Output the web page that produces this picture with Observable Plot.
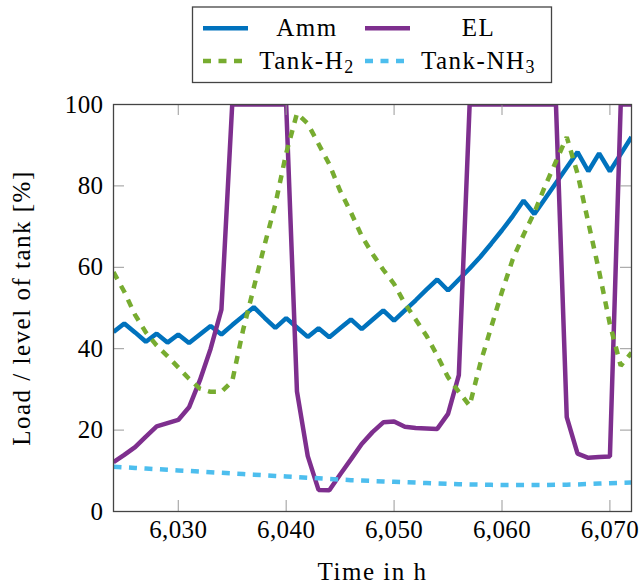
<!DOCTYPE html>
<html><head><meta charset="utf-8">
<script src="https://cdn.jsdelivr.net/npm/d3@7"></script>
<script src="https://cdn.jsdelivr.net/npm/@observablehq/plot@0.6"></script>
<style>
body{margin:0;background:#fff}
#wrap{position:relative;width:641px;height:585px}
#wrap > svg{position:absolute;left:0;top:0}
#wrap text{font-family:"Liberation Serif","DejaVu Serif",serif !important}
#wrap g[aria-label="text"] text{letter-spacing:1.5px}
#wrap g[aria-label$="tick label"] text{letter-spacing:0.4px}
</style>
</head><body><div id="wrap"></div>
<script>
const hours = [6024,6025,6026,6027,6028,6029,6030,6031,6032,6033,6034,6035,6036,6037,6038,6039,6040,6041,6042,6043,6044,6045,6046,6047,6048,6049,6050,6051,6052,6053,6054,6055,6056,6057,6058,6059,6060,6061,6062,6063,6064,6065,6066,6067,6068,6069,6070,6071,6072];
const amm = [44.1,46.2,44.0,41.7,43.7,41.5,43.5,41.4,43.5,45.6,43.5,45.8,48.0,50.2,47.6,45.1,47.5,45.2,42.9,45.0,42.8,45.0,47.2,44.8,47.1,49.4,46.9,49.4,51.9,54.5,57.0,54.3,57.0,59.7,62.6,65.8,69.1,72.6,76.4,73.1,76.9,80.7,84.5,88.3,83.6,88.0,83.6,87.8,92.0];
const el = [12.1,13.9,15.8,18.4,20.9,21.7,22.5,25.6,32.2,40.0,49.6,100,100,100,100,100,100,29.5,13.6,5.3,5.2,9.1,12.8,16.6,19.5,21.9,22.1,20.8,20.5,20.4,20.3,24.0,33.5,100,100,100,100,100,100,100,100,100,23.2,14.2,13.2,13.4,13.5,100,100];
const tankH2 = [58.8,54.0,48.3,44.0,40.8,38.2,35.4,32.6,30.2,29.4,29.4,32.0,44.5,55.0,65.5,75.5,88.0,97.8,95.3,90.3,85.3,78.8,73.5,67.7,63.3,59.4,55.9,51.1,47.2,43.2,38.3,33.0,29.4,26.0,36.5,45.3,54.0,62.0,68.0,73.5,80.0,86.0,92.0,83.0,71.0,59.0,46.0,35.8,39.0];
const tankNH3 = [11.0,10.85,10.7,10.55,10.4,10.25,10.1,9.95,9.8,9.65,9.5,9.35,9.2,9.05,8.9,8.75,8.6,8.45,8.3,8.15,8.0,7.85,7.7,7.6,7.5,7.4,7.3,7.2,7.1,7.0,6.9,6.8,6.7,6.65,6.6,6.55,6.5,6.5,6.5,6.5,6.5,6.55,6.6,6.65,6.75,6.85,6.95,7.05,7.1];
const seriesNames = ["Amm","EL","Tank-H","Tank-NH"];
const seriesSubs = ["","","2","3"];
const seriesColors = ["#0072BD","#7E2F8E","#77AC30","#4DBEEE"];
const seriesDashed = [false,false,true,true];
const seriesValues = [amm, el, tankH2, tankNH3];
const xTicks = [6030,6040,6050,6060,6070];
const yTicks = [0,20,40,60,80,100];
const xLabel = "Time in h";
const yLabel = "Load / level of tank [%]";

const FONT = '"Liberation Serif", "DejaVu Serif", serif';
const DASH = "8,7.5";

const lineMarks = seriesValues.map((vals, k) =>
  Plot.line(hours.map((h, i) => ({t: h, v: vals[i]})), {
    x: "t", y: "v",
    stroke: seriesColors[k],
    strokeWidth: 4.5,
    strokeDasharray: seriesDashed[k] ? DASH : null,
    strokeLinejoin: "miter",
    strokeLinecap: "butt",
    clip: true
  })
);

const chart = Plot.plot({
  width: 641, height: 585,
  marginLeft: 113, marginRight: 10, marginTop: 104, marginBottom: 74,
  x: {domain: [6024, 6072]},
  y: {domain: [0, 100]},
  style: {fontFamily: FONT, fontSize: "25px", color: "#000", background: "white"},
  marks: [
    ...lineMarks,
    Plot.tickX(xTicks, {x: d => d, stroke: "#999", strokeWidth: 1, insetTop: 396}),
    Plot.tickX(xTicks, {x: d => d, stroke: "#999", strokeWidth: 1, insetBottom: 396}),
    Plot.tickY(yTicks, {y: d => d, stroke: "#999", strokeWidth: 1, insetRight: 507}),
    Plot.tickY(yTicks, {y: d => d, stroke: "#999", strokeWidth: 1, insetLeft: 507}),
    Plot.frame({stroke: "#444", strokeWidth: 1.3}),
    Plot.axisX({ticks: xTicks, tickFormat: d3.format(","), tickSize: 0, tickPadding: 9, label: null, fontSize: 25, fill: "#000"}),
    Plot.axisY({ticks: yTicks, tickSize: 0, tickPadding: 10, label: null, fontSize: 25, fill: "#000"}),
    Plot.text([xLabel], {text: d => d, frameAnchor: "bottom", dy: 60, lineAnchor: "middle", fontSize: 25, fill: "#000"}),
    Plot.text([yLabel], {text: d => d, frameAnchor: "left", rotate: -90, dx: -92, lineAnchor: "middle", textAnchor: "middle", fontSize: 25, fill: "#000"})
  ]
});
document.getElementById("wrap").appendChild(chart);

// Legend (2x2 matrix, above the plot)
const leg = d3.create("svg").attr("width", 641).attr("height", 95)
  .style("font-family", FONT).style("font-size", "25px");
leg.append("rect").attr("x", 192.5).attr("y", 7).attr("width", 359).attr("height", 75.5)
  .attr("fill", "white").attr("stroke", "#444").attr("stroke-width", 1.3);
const cells = [
  {sx1: 203, sx2: 248, sy: 28.3, tx: 307, ty: 36},
  {sx1: 365, sx2: 410, sy: 28.3, tx: 478.5, ty: 36},
  {sx1: 203, sx2: 244, sy: 61, tx: 307, ty: 68.5},
  {sx1: 365, sx2: 405, sy: 61, tx: 478.5, ty: 68.5}
];
seriesNames.forEach((name, k) => {
  const c = cells[k];
  leg.append("line").attr("x1", c.sx1).attr("x2", c.sx2).attr("y1", c.sy).attr("y2", c.sy)
    .attr("stroke", seriesColors[k]).attr("stroke-width", 4.5)
    .attr("stroke-dasharray", seriesDashed[k] ? DASH : null);
  const t = leg.append("text").attr("x", c.tx).attr("y", c.ty).attr("text-anchor", "middle")
    .attr("fill", "#000").style("letter-spacing", "1.5px");
  t.append("tspan").text(name);
  if (seriesSubs[k]) t.append("tspan").attr("dy", 4).attr("font-size", "18px").text(seriesSubs[k]);
});
document.getElementById("wrap").appendChild(leg.node());
</script>
</body></html>
